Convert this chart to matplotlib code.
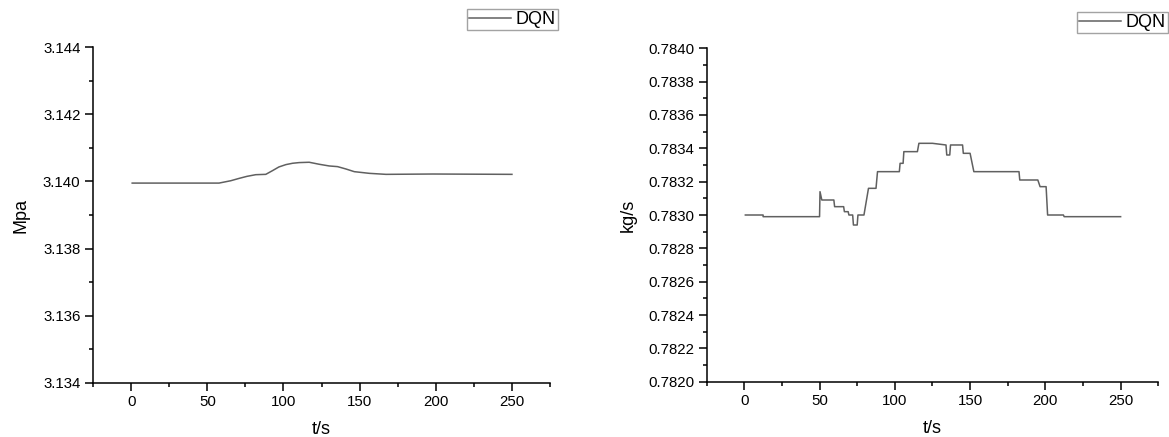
"""
DQN 제어 결과 그래프: 압력(Mpa)과 유량(kg/s)의 시간 응답.

사용법:
    python3 plot.py
"""

from __future__ import annotations

import matplotlib

matplotlib.use("Agg")
import matplotlib.pyplot as plt
from matplotlib.ticker import FormatStrFormatter, MultipleLocator

# 왼쪽: 압력 응답
PRESSURE_T = [0.7, 57.7, 65.4, 70.9, 76.0, 81.8, 88.4, 92.8, 97.0, 101.6,
              106.0, 110.3, 116.9, 123.5, 130.0, 135.5, 141.0, 146.5,
              156.4, 167.3, 198.0, 250.0]
PRESSURE = [3.13995, 3.13995, 3.14002, 3.14009, 3.14015, 3.14020, 3.14021,
            3.14032, 3.14043, 3.14050, 3.14054, 3.14056, 3.14057, 3.14051,
            3.14046, 3.14044, 3.14037, 3.14029, 3.14024, 3.14021, 3.14022,
            3.14021]

# 오른쪽: 유량 응답 (계단형, 꼭짓점 단위로 읽음)
FLOW_T = [0.7, 12.5, 12.5, 50.0, 50.3, 51.5, 59.5, 60.0, 66.0, 66.5, 69.0,
          69.5, 72.0, 72.5, 75.0, 75.5, 79.5, 82.5, 87.5, 88.5, 103.0, 103.5,
          105.5, 106.0, 115.0, 116.0, 125.0, 134.0, 134.5, 136.5, 137.0,
          145.0, 145.5, 150.0, 152.5, 182.5, 183.0, 195.0, 196.5, 200.5,
          201.5, 212.0, 212.5, 250.0]
FLOW = [0.78300, 0.78300, 0.78299, 0.78299, 0.78314, 0.78309, 0.78309,
        0.78305, 0.78305, 0.78302, 0.78302, 0.78300, 0.78300, 0.78294,
        0.78294, 0.78300, 0.78300, 0.78316, 0.78316, 0.78326, 0.78326,
        0.78331, 0.78331, 0.78338, 0.78338, 0.78343, 0.78343, 0.78342,
        0.78336, 0.78336, 0.78342, 0.78342, 0.78337, 0.78337, 0.78326,
        0.78326, 0.78321, 0.78321, 0.78317, 0.78317, 0.78300, 0.78300,
        0.78299, 0.78299]

SERIES_LABEL = "DQN"
X_LABEL = "t/s"

LINE_COLOR = "#606060"
FONT = ["Liberation Sans", "DejaVu Sans"]


def style_axes(ax, ylim, ymajor, yminor, yfmt):
    """Origin 스타일 축: 왼쪽/아래 축만, 바깥 방향 눈금."""
    ax.spines["top"].set_visible(False)
    ax.spines["right"].set_visible(False)
    for side in ("left", "bottom"):
        ax.spines[side].set_linewidth(1.1)
    ax.set_xlim(-25, 275)
    ax.set_ylim(*ylim)
    ax.xaxis.set_major_locator(MultipleLocator(50))
    ax.xaxis.set_minor_locator(MultipleLocator(25))
    ax.yaxis.set_major_locator(MultipleLocator(ymajor))
    ax.yaxis.set_minor_locator(MultipleLocator(yminor))
    ax.yaxis.set_major_formatter(FormatStrFormatter(yfmt))
    ax.tick_params(which="major", direction="out", length=5.5, width=1.1,
                   labelsize=10.8, pad=3.5)
    ax.tick_params(which="minor", direction="out", length=3, width=1.1)


def add_legend(fig, ax, anchor):
    leg = ax.legend(
        loc="upper left",
        bbox_to_anchor=anchor,
        bbox_transform=fig.transFigure,
        fontsize=13,
        frameon=True,
        fancybox=False,
        borderpad=0.12,
        handlelength=2.3,
        handletextpad=0.25,
        borderaxespad=0.0,
    )
    frame = leg.get_frame()
    frame.set_edgecolor("#8c8c8c")
    frame.set_linewidth(1.0)


def main() -> None:
    plt.rcParams["font.family"] = FONT

    fig = plt.figure(figsize=(11.69, 4.37), dpi=100)

    # 왼쪽 패널: 압력
    ax1 = fig.add_axes([0.0796, 0.1236, 0.3909, 0.7688])
    ax1.plot(PRESSURE_T, PRESSURE, color=LINE_COLOR, lw=1.1, label=SERIES_LABEL)
    style_axes(ax1, (3.134, 3.144), 0.002, 0.001, "%.3f")
    ax1.set_xlabel(X_LABEL, fontsize=13)
    ax1.set_ylabel("Mpa", fontsize=13)
    ax1.xaxis.set_label_coords(0.5, -0.112)
    ax1.yaxis.set_label_coords(-0.14, 0.5)
    add_legend(fig, ax1, (467 / 1169, 1 - 9 / 437))

    # 오른쪽 패널: 유량
    ax2 = fig.add_axes([0.6045, 0.1265, 0.3863, 0.7630])
    ax2.plot(FLOW_T, FLOW, color=LINE_COLOR, lw=1.1, label=SERIES_LABEL)
    style_axes(ax2, (0.7820, 0.7840), 0.0002, 0.0001, "%.4f")
    ax2.set_xlabel(X_LABEL, fontsize=13)
    ax2.set_ylabel("kg/s", fontsize=13)
    ax2.xaxis.set_label_coords(0.5, -0.115)
    ax2.yaxis.set_label_coords(-0.155, 0.5)
    add_legend(fig, ax2, (1077 / 1169, 1 - 12 / 437))

    fig.savefig("out.png", dpi=100)
    plt.close(fig)


if __name__ == "__main__":
    main()
